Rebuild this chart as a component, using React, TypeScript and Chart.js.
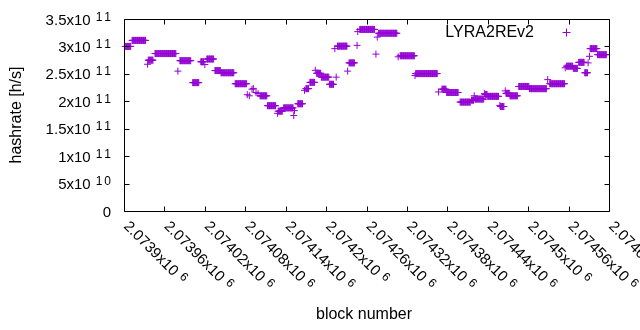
import React, { useEffect, useRef } from 'react';
import { Chart, registerables } from 'chart.js';

Chart.register(...registerables);

// Runs of consecutive blocks sharing the same hashrate estimate (units of 1e11 h/s)
const runStart = [
  2073902, 2073912, 2073935, 2073936, 2073946, 2073980, 2073983, 2074002, 2074014, 2074020,
  2074023, 2074035, 2074044, 2074065, 2074083, 2074086, 2074090, 2074092, 2074096, 2074099,
  2074102, 2074113, 2074128, 2074129, 2074137, 2074152, 2074153, 2074158, 2074168, 2074170,
  2074176, 2074184, 2074186, 2074193, 2074205, 2074213, 2074215, 2074217, 2074232, 2074234,
  2074246, 2074247, 2074250, 2074274, 2074276, 2074278, 2074307, 2074310, 2074332, 2074333,
  2074367, 2074372, 2074379, 2074399, 2074416, 2074420, 2074421, 2074435, 2074436, 2074440,
  2074458, 2074459, 2074466, 2074467, 2074473, 2074486, 2074502, 2074529, 2074532, 2074555,
  2074557, 2074567, 2074575, 2074584, 2074589, 2074591, 2074592, 2074603,
];
const runEnd = [
  2073910, 2073932, 2073935, 2073943, 2073977, 2073980, 2073999, 2074011, 2074018, 2074020,
  2074033, 2074043, 2074063, 2074082, 2074083, 2074086, 2074090, 2074092, 2074096, 2074099,
  2074112, 2074125, 2074128, 2074135, 2074151, 2074152, 2074153, 2074165, 2074168, 2074174,
  2074183, 2074184, 2074192, 2074204, 2074211, 2074213, 2074215, 2074231, 2074232, 2074242,
  2074246, 2074247, 2074272, 2074274, 2074276, 2074305, 2074307, 2074331, 2074332, 2074365,
  2074367, 2074378, 2074396, 2074414, 2074419, 2074420, 2074434, 2074435, 2074439, 2074456,
  2074458, 2074464, 2074466, 2074472, 2074484, 2074501, 2074527, 2074529, 2074554, 2074555,
  2074566, 2074573, 2074583, 2074588, 2074589, 2074591, 2074602, 2074616,
];
const runHashrate = [
  3.00, 3.11, 2.675, 2.75, 2.87, 2.55, 2.74, 2.34, 2.72, 2.67,
  2.77, 2.56, 2.52, 2.32, 2.12, 2.10, 2.22, 2.235, 2.16, 2.14,
  2.10, 1.92, 1.78, 1.82, 1.88, 1.74, 1.83, 1.955, 2.20, 2.23,
  2.345, 2.565, 2.51, 2.44, 2.31, 2.96, 2.44, 3.005, 2.55, 2.70,
  3.02, 3.27, 3.31, 2.86, 3.17, 3.24, 2.81, 2.83, 2.47, 2.505,
  2.17, 2.22, 2.16, 1.985, 2.02, 2.10, 2.04, 2.14, 2.125, 2.09,
  1.925, 1.905, 2.19, 2.145, 2.10, 2.27, 2.23, 2.395, 2.32, 2.61,
  2.64, 2.60, 2.71, 2.52, 2.70, 2.82, 2.96, 2.85,
];

const xMin = 2073900;
const xMax = 2074620;
const yMin = 0;
const yMax = 3.5e11;

const xTickValues = [
  2073900, 2073960, 2074020, 2074080, 2074140, 2074200, 2074260,
  2074320, 2074380, 2074440, 2074500, 2074560, 2074620,
];
const xTickLabels = [
  '2.0739x10^6', '2.07396x10^6', '2.07402x10^6', '2.07408x10^6', '2.07414x10^6',
  '2.0742x10^6', '2.07426x10^6', '2.07432x10^6', '2.07438x10^6', '2.07444x10^6',
  '2.0745x10^6', '2.07456x10^6', '2.0746x10^6',
];
const yTickValues = [0, 5e10, 1e11, 1.5e11, 2e11, 2.5e11, 3e11, 3.5e11];
const yTickLabels = [
  '0', '5x10^10', '1x10^11', '1.5x10^11', '2x10^11', '2.5x10^11', '3x10^11', '3.5x10^11',
];

const seriesName = 'LYRA2REv2';
const xTitle = 'block number';
const yTitle = 'hashrate [h/s]';

const PURPLE = '#9400D3';
const FONT = '"Liberation Sans", Arial, sans-serif';
const TICK_FONT = `15px ${FONT}`;
const EXP_FONT = `12px ${FONT}`;
const EXP_SPACING = 2;
const EXP_GAP = 5;

function splitLabel(label: string): [string, string] {
  const i = label.indexOf('^');
  if (i < 0) return [label, ''];
  return [label.slice(0, i), label.slice(i + 1)];
}

function drawSpaced(ctx: CanvasRenderingContext2D, text: string, x: number, y: number): number {
  let cx = x;
  for (const ch of text) {
    ctx.fillText(ch, cx, y);
    cx += ctx.measureText(ch).width + EXP_SPACING;
  }
  return cx - x - EXP_SPACING;
}

function spacedWidth(ctx: CanvasRenderingContext2D, text: string): number {
  let w = 0;
  for (const ch of text) w += ctx.measureText(ch).width + EXP_SPACING;
  return text.length ? w - EXP_SPACING : 0;
}

const decorPlugin = {
  id: 'gnuplotDecor',
  afterDraw(chart: any) {
    const ctx: CanvasRenderingContext2D = chart.ctx;
    const area = chart.chartArea;
    const xs = chart.scales.x;
    const ys = chart.scales.y;
    const L = Math.floor(area.left) + 0.5;
    const R = Math.floor(area.right) + 0.5;
    const T = Math.floor(area.top) + 0.5;
    const B = Math.floor(area.bottom) + 0.5;
    ctx.save();
    ctx.strokeStyle = '#000';
    ctx.lineWidth = 1;
    ctx.beginPath();
    ctx.rect(L, T, R - L, B - T);
    yTickValues.forEach((v) => {
      const py = Math.round(ys.getPixelForValue(v)) + 0.5;
      ctx.moveTo(L, py); ctx.lineTo(L + 5, py);
      ctx.moveTo(R, py); ctx.lineTo(R - 5, py);
    });
    xTickValues.forEach((v) => {
      const px = Math.round(xs.getPixelForValue(v)) + 0.5;
      ctx.moveTo(px, B); ctx.lineTo(px, B - 5);
      ctx.moveTo(px, T); ctx.lineTo(px, T + 5);
    });
    ctx.stroke();

    ctx.fillStyle = '#000';
    ctx.textBaseline = 'alphabetic';
    ctx.textAlign = 'left';
    const yLabelRight = 111;
    yTickValues.forEach((v, i) => {
      const py = ys.getPixelForValue(v);
      const [m, e] = splitLabel(yTickLabels[i]);
      ctx.font = EXP_FONT;
      const ew = e ? spacedWidth(ctx, e) : 0;
      const gap = e ? EXP_GAP : 0;
      ctx.font = TICK_FONT;
      const mw = ctx.measureText(m).width;
      ctx.fillText(m, yLabelRight - ew - gap - mw, py + 5.5);
      if (e) {
        ctx.font = EXP_FONT;
        drawSpaced(ctx, e, yLabelRight - ew, py + 1.5);
      }
    });

    xTickValues.forEach((v, i) => {
      const px = xs.getPixelForValue(v);
      const [m, e] = splitLabel(xTickLabels[i]);
      ctx.save();
      ctx.translate(px - 1, 227);
      ctx.rotate(Math.PI / 4);
      ctx.font = TICK_FONT;
      ctx.fillText(m, 0, 0);
      const mw = ctx.measureText(m).width;
      if (e) {
        ctx.font = EXP_FONT;
        drawSpaced(ctx, e, mw + EXP_GAP, -4);
      }
      ctx.restore();
    });

    ctx.font = `16px ${FONT}`;
    ctx.textAlign = 'center';
    ctx.textBaseline = 'middle';
    ctx.fillText(xTitle, 364, 315);
    ctx.save();
    ctx.translate(17, 115);
    ctx.rotate(-Math.PI / 2);
    ctx.fillText(yTitle, 0, 0);
    ctx.restore();

    ctx.textAlign = 'right';
    ctx.textBaseline = 'alphabetic';
    ctx.fillText(seriesName, 534, 37);
    ctx.strokeStyle = PURPLE;
    ctx.beginPath();
    ctx.moveTo(562.5, 32.5); ctx.lineTo(570.5, 32.5);
    ctx.moveTo(566.5, 28.5); ctx.lineTo(566.5, 36.5);
    ctx.stroke();
    ctx.restore();
  },
};

export default function App() {
  const canvasRef = useRef<HTMLCanvasElement | null>(null);

  useEffect(() => {
    if (!canvasRef.current) return;
    const points: { x: number; y: number }[] = [];
    runStart.forEach((s, i) => {
      for (let b = s; b <= runEnd[i]; b++) {
        points.push({ x: b, y: runHashrate[i] * 1e11 });
      }
    });
    const chart = new Chart(canvasRef.current, {
      type: 'scatter',
      data: {
        datasets: [
          {
            label: seriesName,
            data: points,
            pointStyle: 'cross',
            pointRadius: 3.5,
            pointHoverRadius: 3.5,
            borderColor: PURPLE,
            backgroundColor: PURPLE,
            borderWidth: 1,
            showLine: false,
            clip: false as any,
          },
        ],
      },
      options: {
        responsive: false,
        maintainAspectRatio: false,
        devicePixelRatio: 1,
        animation: false,
        events: [],
        layout: { padding: { top: 19, right: 31, bottom: 0, left: 0 } },
        plugins: {
          legend: { display: false },
          tooltip: { enabled: false },
        },
        scales: {
          x: {
            type: 'linear',
            min: xMin,
            max: xMax,
            grid: { display: false },
            border: { display: false },
            ticks: { display: false },
            afterBuildTicks: (s: any) => {
              s.ticks = xTickValues.map((v) => ({ value: v }));
            },
            afterFit: (s: any) => {
              s.height = 119;
            },
          },
          y: {
            type: 'linear',
            min: yMin,
            max: yMax,
            grid: { display: false },
            border: { display: false },
            ticks: { display: false },
            afterBuildTicks: (s: any) => {
              s.ticks = yTickValues.map((v) => ({ value: v }));
            },
            afterFit: (s: any) => {
              s.width = 124;
            },
          },
        },
      },
      plugins: [decorPlugin],
    });
    return () => chart.destroy();
  }, []);

  return (
    <div style={{ position: 'absolute', left: 0, top: 0, width: 640, height: 330, background: '#fff' }}>
      <canvas ref={canvasRef} width={640} height={330} style={{ display: 'block', width: 640, height: 330 }} />
    </div>
  );
}
